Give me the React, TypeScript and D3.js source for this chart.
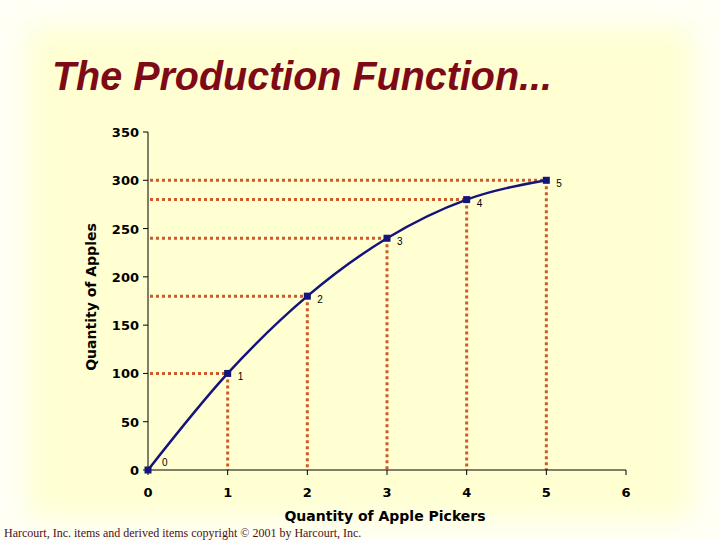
import React from "react";
import * as d3 from "d3";

const pickers = [0, 1, 2, 3, 4, 5];
const apples = [0, 100, 180, 240, 280, 300];
const xTicks = [0, 1, 2, 3, 4, 5, 6];
const yTicks = [0, 50, 100, 150, 200, 250, 300, 350];
const title = "The Production Function...";
const xLabel = "Quantity of Apple Pickers";
const yLabel = "Quantity of Apples";
const footer = "Harcourt, Inc. items and derived items copyright \u00A9 2001 by Harcourt, Inc.";

export default function App() {
  const W = 720, H = 540;
  const x = d3.scaleLinear().domain([0, 6]).range([148, 626]);
  const y = d3.scaleLinear().domain([0, 350]).range([470, 132]);
  const pts = pickers.map((p, i) => ({ p, a: apples[i] }));
  const line = d3.line<{ p: number; a: number }>().x(d => x(d.p)).y(d => y(d.a)).curve(d3.curveMonotoneX);
  const dotColor = "#cc5a2a";
  const navy = "#14147a";
  const tickFont = "'DejaVu Sans', Verdana, sans-serif";
  return (
    <svg width={W} height={H} style={{ position: "absolute", left: 0, top: 0 }}>
      <defs>
        <filter id="blur" x="-10%" y="-10%" width="120%" height="120%">
          <feGaussianBlur stdDeviation="14" />
        </filter>
      </defs>
      <rect x={0} y={0} width={W} height={H} fill="#fffff6" />
      <rect x={28} y={28} width={664} height={490} fill="#ffffd2" filter="url(#blur)" />
      <text x={52} y={90} textLength={500} lengthAdjust="spacingAndGlyphs" fontFamily="'Liberation Sans', Arial, sans-serif" fontWeight="bold" fontStyle="italic" fontSize={41} fill="#7d0a16">{title}</text>
      {pts.filter(d => d.p > 0).map((d, i) => (
        <g key={"g" + i}>
          <line x1={x(0) + 2} x2={x(d.p)} y1={y(d.a)} y2={y(d.a)} stroke={dotColor} strokeWidth={3} strokeDasharray="3,3" />
          <line x1={x(d.p)} x2={x(d.p)} y1={y(d.a)} y2={y(0)} stroke={dotColor} strokeWidth={3} strokeDasharray="3,3" />
        </g>
      ))}
      <line x1={x(0)} x2={x(0)} y1={y(0)} y2={y(350)} stroke="#000" strokeWidth={1} />
      <line x1={x(0)} x2={x(6)} y1={y(0)} y2={y(0)} stroke="#000" strokeWidth={1} />
      {yTicks.map(t => (
        <g key={"y" + t}>
          <line x1={x(0) - 5} x2={x(0)} y1={y(t)} y2={y(t)} stroke="#000" />
          <text x={x(0) - 9} y={y(t) + 5} textAnchor="end" fontFamily={tickFont} fontWeight="bold" fontSize={13} fill="#000">{t}</text>
        </g>
      ))}
      {xTicks.map(t => (
        <g key={"x" + t}>
          <line x1={x(t)} x2={x(t)} y1={y(0)} y2={y(0) + 5} stroke="#000" />
          <text x={x(t)} y={y(0) + 27} textAnchor="middle" fontFamily={tickFont} fontWeight="bold" fontSize={13} fill="#000">{t}</text>
        </g>
      ))}
      <text x={385} y={521} textAnchor="middle" fontFamily={tickFont} fontWeight="bold" fontSize={14} fill="#000">{xLabel}</text>
      <text transform="translate(96,297) rotate(-90)" textAnchor="middle" fontFamily={tickFont} fontWeight="bold" fontSize={14} fill="#000">{yLabel}</text>
      <path d={line(pts) || ""} fill="none" stroke={navy} strokeWidth={2.5} />
      {pts.map((d, i) => (
        <g key={"p" + i}>
          <rect x={x(d.p) - 3.5} y={y(d.a) - 3.5} width={7} height={7} fill={navy} />
          <text x={x(d.p) + (i === 0 ? 14 : 10)} y={y(d.a) + (i === 0 ? -4 : 7)} fontFamily="'Liberation Sans', Arial, sans-serif" fontSize={10} fill="#000">{d.p}</text>
        </g>
      ))}
      <text x={4} y={537} fontFamily="'Liberation Serif', 'Times New Roman', serif" fontSize={12} fill="#4a0f1a">{footer}</text>
    </svg>
  );
}
